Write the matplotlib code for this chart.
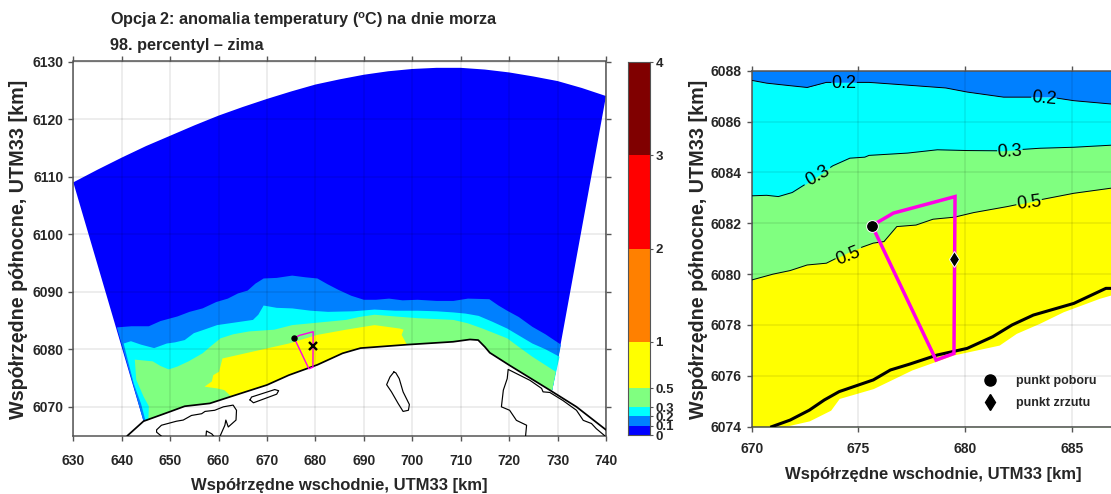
import matplotlib
matplotlib.use("Agg")
import matplotlib.pyplot as plt
from matplotlib.lines import Line2D
from matplotlib.colors import ListedColormap, BoundaryNorm
import numpy as np

plt.rcParams['font.family'] = ['Liberation Sans', 'DejaVu Sans']
plt.rcParams['mathtext.fontset'] = 'custom'
plt.rcParams['mathtext.rm'] = 'Liberation Sans:bold'
plt.rcParams['mathtext.bf'] = 'Liberation Sans:bold'
plt.rcParams['mathtext.default'] = 'bf'

TITLE1 = r"Opcja 2: anomalia temperatury ($^{\mathrm{o}}$C) na dnie morza"
TITLE2 = "98. percentyl – zima"
XLABEL = "Współrzędne wschodnie, UTM33 [km]"
YLABEL = "Współrzędne północne, UTM33 [km]"

levels = [0, 0.1, 0.2, 0.3, 0.5, 1, 2, 3, 4]
colors = ['#0000FF', '#0080FF', '#00FFFF', '#80FF80', '#FFFF00', '#FF8000', '#FF0000', '#800000']

# ---- left map (km)
top_arc = [(630, 6109), (635, 6111.2), (640, 6113.3), (645, 6115.3), (650, 6117.1), (655, 6118.9),
           (660, 6120.6), (665, 6122.1), (670, 6123.5), (675, 6124.8), (680, 6126), (685, 6126.9),
           (690, 6127.7), (695, 6128.3), (700, 6128.7), (705, 6128.9), (710, 6128.9), (715, 6128.6),
           (720, 6128.1), (725, 6127.4), (730, 6126.6), (735, 6125.4), (740, 6124)]
iso01 = [(639.0, 6083.8), (642.0, 6084.0), (645.6, 6084.0), (648.0, 6084.9), (651.5, 6085.7),
         (654.0, 6086.5), (656.7, 6087.1), (659.5, 6088.2), (661.9, 6088.8), (664.0, 6089.7),
         (666.0, 6090.2), (667.6, 6091.4), (669.3, 6092.3), (672.0, 6092.4), (675.2, 6092.8),
         (678.0, 6092.5), (680.4, 6092.3), (682.5, 6091.3), (684.8, 6090.3), (687.4, 6089.3),
         (690.0, 6088.6), (692.5, 6088.6), (695.2, 6088.8), (698.0, 6088.5), (701.1, 6088.6),
         (705.0, 6088.4), (708.5, 6088.4), (711.5, 6088.8), (715.9, 6088.7), (717.8, 6087.6),
         (719.6, 6086.7), (722.0, 6085.6), (724.8, 6083.9), (727.5, 6082.6), (730.7, 6080.8)]
iso02 = [(644.9, 6067.6), (644.0, 6070.5), (642.5, 6074.0), (640.4, 6081.0), (641.9, 6081.4),
         (644.0, 6080.8), (646.7, 6080.2), (649.3, 6081.0), (651.0, 6081.2), (653.0, 6081.6),
         (654.9, 6082.8), (657.0, 6083.4), (659.7, 6084.2), (663.0, 6084.6), (667.1, 6085.1),
         (668.2, 6086.0), (669.3, 6087.6), (672.0, 6087.2), (675.2, 6087.1), (679.0, 6086.7),
         (682.6, 6086.5), (687.8, 6086.6), (692.2, 6086.9), (696.5, 6086.7), (701.1, 6086.7),
         (705.0, 6086.6), (708.5, 6086.4), (711.0, 6086.2), (713.7, 6085.8), (716.5, 6084.8),
         (719.6, 6083.6), (722.0, 6082.4), (724.8, 6081.0), (727.5, 6080.0), (730.4, 6078.7)]
iso03 = [(645.5, 6067.7), (645.6, 6070.1), (644.5, 6071.8), (643.0, 6074.7), (642.7, 6078.2),
         (646.4, 6077.9), (648.0, 6077.1), (649.7, 6076.5), (651.5, 6077.0), (653.8, 6077.9),
         (656.7, 6079.3), (658.5, 6080.6), (660.4, 6081.9), (663.0, 6082.6), (666.3, 6083.1),
         (671.5, 6083.4), (675.2, 6084.2), (678.9, 6084.5), (686.3, 6085.1), (689.0, 6085.6),
         (692.2, 6086.0), (696.5, 6085.7), (701.1, 6085.4), (708.5, 6085.1), (711.5, 6084.5),
         (714.5, 6083.6), (719.6, 6081.9), (722.0, 6080.4), (724.8, 6078.7), (729.6, 6076.1)]
iso05 = [(657.1, 6073.5), (658.6, 6074.4), (658.9, 6075.5), (660.1, 6076.1), (660.8, 6078.4),
         (667.1, 6079.6), (674.5, 6081.0), (680.4, 6082.5), (686.3, 6083.4), (692.2, 6084.2),
         (697.4, 6083.6), (698.2, 6083.4), (697.8, 6082.5), (698.9, 6080.8), (689.3, 6080.2),
         (685.6, 6079.3), (680.4, 6077.3), (674.5, 6075.5), (670.0, 6073.8), (662.6, 6071.8),
         (661.2, 6072.9), (659.7, 6073.2)]
coast = [(641.2, 6065.0), (644.5, 6067.5), (650.1, 6069.2), (653.0, 6070.1), (658.2, 6070.6),
         (662.6, 6071.8), (670.0, 6073.8), (674.5, 6075.5), (680.4, 6077.3), (685.6, 6079.3),
         (689.3, 6080.2), (698.9, 6080.8), (708.4, 6081.3), (711.9, 6081.7), (713.6, 6081.6),
         (715.0, 6080.4), (716.0, 6079.4), (720.1, 6077.2), (728.4, 6072.9), (733.9, 6070.0),
         (740.0, 6066.0)]
lagoon_w = [(648.2, 6064.9), (647.2, 6065.6), (647.2, 6066.0), (648.2, 6066.8), (651.3, 6067.5),
            (652.7, 6067.7), (654.4, 6068.5), (656.5, 6068.8), (657.2, 6069.2), (659.2, 6069.4),
            (661.0, 6070.0), (663.0, 6070.3), (663.7, 6069.4), (663.6, 6067.7), (662.0, 6066.5),
            (661.5, 6067.7), (661.3, 6066.8), (660.3, 6064.9)]
lagoon_s = [(657.4, 6064.9), (657.5, 6065.8), (658.6, 6065.3), (659.0, 6064.9)]
bar_isl = [(666.5, 6071.2), (667.2, 6070.7), (672.0, 6072.2), (672.4, 6072.8), (671.6, 6073.0),
           (666.8, 6071.7), (666.5, 6071.2)]
isl_e = [(696.2, 6076.05), (695.4, 6075.2), (694.7, 6073.85), (695.7, 6072.6), (697.1, 6070.55),
         (698.1, 6069.2), (699.2, 6069.4), (699.4, 6070.4), (698.1, 6072.6), (697.3, 6074.9),
         (696.6, 6075.9), (696.2, 6076.05)]
lagoon_e = [(723.4, 6065.0), (723.6, 6066.8), (721.5, 6067.65), (720.1, 6069.4), (718.4, 6070.0),
            (718.8, 6072.9), (719.6, 6074.9), (719.8, 6076.5), (724.3, 6074.6), (726.7, 6073.2),
            (727.0, 6072.6), (728.4, 6072.5), (731.1, 6071.1), (733.9, 6069.4), (735.3, 6067.65),
            (737.0, 6067.1), (738.0, 6066.2), (739.7, 6065.0)]

# ---- right map (km)
c02 = [(670, 6087.62), (670.7, 6087.51), (671.8, 6087.41), (672.6, 6087.34), (673.5, 6087.54),
       (675.5, 6087.54), (677.0, 6087.45), (679.1, 6087.32), (680.1, 6087.16), (681.8, 6086.96),
       (684.0, 6086.96), (685.1, 6086.82), (686.84, 6086.69)]
c03 = [(670, 6083.08), (670.7, 6083.10), (671.25, 6083.05), (671.9, 6083.21), (672.6, 6083.58),
       (673.8, 6084.26), (674.6, 6084.56), (675.3, 6084.60), (675.5, 6084.67), (677.3, 6084.76),
       (678.7, 6084.89), (680.1, 6084.86), (681.7, 6084.85), (683.5, 6084.95), (685.1, 6084.99),
       (686.84, 6085.07)]
c05 = [(670, 6079.77), (671.0, 6080.0), (671.8, 6080.14), (672.6, 6080.36), (673.5, 6080.43),
       (674.6, 6080.89), (675.7, 6081.22), (676.2, 6081.28), (676.8, 6081.87), (677.7, 6081.93),
       (678.5, 6082.16), (679.5, 6082.24), (680.4, 6082.42), (682.0, 6082.66), (683.5, 6082.92),
       (685.1, 6083.18), (686.84, 6083.38)]
yellow_edge = [(671.5, 6074), (672.7, 6074.23), (673.7, 6074.65), (674.1, 6075.11), (675.7, 6075.5),
               (677.5, 6076.23), (678.4, 6076.5), (679.45, 6076.82), (681.6, 6077.21), (682.4, 6077.67),
               (683.5, 6078.07), (684.6, 6078.52), (686.3, 6079.05), (686.84, 6079.18)]
coast_r = [(670.94, 6074), (671.8, 6074.26), (672.7, 6074.65), (673.4, 6075.05), (674.1, 6075.38),
           (675.7, 6075.84), (676.5, 6076.23), (677.4, 6076.46), (678.7, 6076.82), (680.1, 6077.08),
           (681.3, 6077.54), (682.2, 6078.0), (683.2, 6078.39), (685.1, 6078.85), (686.6, 6079.44),
           (686.84, 6079.44)]
intake = (675.64, 6081.91)
outfall = (679.47, 6080.59)
pipeline = [intake, (676.64, 6082.40), (679.53, 6083.05), (679.48, 6076.88), (678.64, 6076.62), intake]
clabels = [("0.2", 674.33, 6087.49, 0, c02), ("0.2", 683.7, 6086.9, -5, c02), ("0.3", 673.08, 6083.87, 30, c03),
           ("0.3", 682.1, 6084.82, 3, c03), ("0.5", 674.53, 6080.69, 22, c05), ("0.5", 683.0, 6082.79, 7, c05)]
cb_ticks = [0, 0.1, 0.2, 0.3, 0.5, 1, 2, 3, 4]
cb_ticklabels = ['0', '0.1', '0.2', '0.3', '0.5', '1', '2', '3', '4']
LEG1, LEG2 = "punkt poboru", "punkt zrzutu"

W, H = 1111, 494
fig = plt.figure(figsize=(W / 100, H / 100), dpi=100)


def axpx(x0, x1, ytop, ybot):
    return fig.add_axes([x0 / W, 1 - ybot / H, (x1 - x0) / W, (ybot - ytop) / H])


def xy(p):
    a = np.array(p, float)
    return a[:, 0], a[:, 1]


FRAME = '#555555'
TXT = '#262626'


def style(ax, fs=10, pad=3):
    ax.grid(True, color='black', alpha=0.09, lw=1.1, zorder=5)
    ax.set_axisbelow(False)
    ax.tick_params(direction='out', length=3.6, width=1, color=FRAME, labelcolor=TXT, labelsize=fs)
    ax.tick_params(axis='y', pad=3.5)
    ax.tick_params(axis='x', pad=pad)
    for lab in ax.get_xticklabels() + ax.get_yticklabels():
        lab.set_fontweight('bold')
    for s in ax.spines.values():
        s.set_color(FRAME)
        s.set_linewidth(1.1)


# ---------- left
ax = axpx(73.3, 606, 61.5, 435.6)
ax.set_xlim(630, 740)
ax.set_ylim(6065, 6130)
ax.set_xticks(np.arange(630, 741, 10))
ax.set_yticks(np.arange(6070, 6131, 10))
sw = (728.9, 6072.9)
inner = coast[1:-2]
c_rev = [p for p in inner if p[0] <= sw[0]][::-1]
ax.fill(*xy(top_arc + [sw] + c_rev), color=colors[0], lw=0, zorder=1)
ax.fill(*xy(iso01 + [sw] + c_rev), color=colors[1], lw=0, zorder=1.1)
ax.fill(*xy(iso02 + [sw] + c_rev), color=colors[2], lw=0, zorder=1.2)
ax.fill(*xy(iso03 + [sw] + c_rev), color=colors[3], lw=0, zorder=1.3)
ax.fill(*xy(iso05), color=colors[4], lw=0, zorder=1.4)
ax.plot(*xy(coast), color='k', lw=1.25, zorder=6)
for part in (lagoon_w, lagoon_s, bar_isl, isl_e, lagoon_e):
    ax.plot(*xy(part), color='k', lw=0.85, zorder=6)
ax.plot(*xy(pipeline), color='#FF00E6', lw=1.0, zorder=7)
ax.plot(*intake, 'o', color='k', ms=3.6, zorder=8)
ax.plot(*outfall, 'x', color='k', ms=5.5, mew=1.7, zorder=8)
ax.tick_params(top=True, right=True)
style(ax, pad=9.5)

# ---------- colorbar
cax = axpx(628, 650, 62, 435)
cmap = ListedColormap(colors)
norm = BoundaryNorm(levels, cmap.N)
cax.pcolormesh([0, 1], levels, np.array(levels[:-1])[:, None] + 1e-6, cmap=cmap, norm=norm)
cax.set_xticks([])
cax.yaxis.tick_right()
cax.set_yticks(cb_ticks)
cax.set_yticklabels(cb_ticklabels, fontweight='bold', fontsize=9.5, color=TXT)
cax.tick_params(axis='y', length=2, width=0.8, color=FRAME, pad=2, labelcolor=TXT)
cax.set_ylim(0, 4)
for s in cax.spines.values():
    s.set_color(FRAME)
    s.set_linewidth(0.8)

# ---------- right
bx = axpx(751.7, 1111, 70.7, 426.7)
bx.set_xlim(670, 686.84)
bx.set_ylim(6074, 6088)
bx.set_xticks(np.arange(670, 686, 5))
bx.set_yticks(np.arange(6074, 6089, 2))
x, y = xy(c02)
bx.fill_between(x, y, 6088, color=colors[1], lw=0, zorder=1)
bx.fill_between(x, 6074, y, color=colors[2], lw=0, zorder=1.1)
x, y = xy(c03)
bx.fill_between(x, 6074, y, color=colors[3], lw=0, zorder=1.2)
x, y = xy(c05)
bx.fill_between(x, 6074, y, color=colors[4], lw=0, zorder=1.3)
x, y = xy(yellow_edge)
bx.fill_between(x, 6074, y, color='white', lw=0, zorder=1.4)
GAP = 0.62
for c in (c02, c03, c05):
    cx, cy = xy(c)
    gaps = sorted((lab[1] - GAP, lab[1] + GAP) for lab in clabels if lab[4] is c)
    x0 = cx[0]
    for g0, g1 in gaps + [(None, None)]:
        x1 = g0 if g0 is not None else cx[-1]
        m = (cx > x0) & (cx < x1)
        sx = np.r_[x0, cx[m], x1]
        sy = np.r_[np.interp(x0, cx, cy), cy[m], np.interp(x1, cx, cy)]
        bx.plot(sx, sy, color='k', lw=0.7, zorder=6)
        x0 = g1
bx.plot(*xy(coast_r), color='k', lw=2.2, zorder=6)
bx.plot(*xy(pipeline), color='#FF00E6', lw=2.5, zorder=7, solid_joinstyle='miter')
bx.plot(*intake, 'o', color='k', ms=8.5, mec='white', mew=0.7, zorder=8)
bx.plot(*outfall, 'd', color='k', ms=8.5, mec='white', mew=0.7, zorder=8)
for t, tx, ty, rot, _ in clabels:
    bx.text(tx, ty, t, fontsize=13, color='k', rotation=rot, ha='center', va='center', zorder=9)
bx.tick_params(top=True)
style(bx, pad=7.5)
bx.spines['right'].set_visible(False)
bx.legend(handles=[Line2D([], [], ls='', marker='o', color='k', ms=8),
                   Line2D([], [], ls='', marker='d', color='k', ms=8)],
          labels=[LEG1, LEG2], frameon=False, loc='lower right',
          bbox_to_anchor=(1.0095, 0.0), prop={'weight': 'bold', 'size': 9},
          labelcolor=TXT, labelspacing=0.81, handletextpad=1.1, borderaxespad=1.0)

# ---------- text
fig.text(110 / W, 1 - 25.5 / H, TITLE1, fontsize=11.7, fontweight='bold', color=TXT, va='baseline')
fig.text(110 / W, 1 - 50 / H, TITLE2, fontsize=11.7, fontweight='bold', color=TXT, va='baseline')
fig.text(339 / W, 1 - 485 / H, XLABEL, fontsize=12, fontweight='bold', color=TXT, ha='center', va='center')
fig.text(933 / W, 1 - 474 / H, XLABEL, fontsize=12, fontweight='bold', color=TXT, ha='center', va='center')
fig.text(19 / W, 1 - 249 / H, YLABEL, fontsize=14.2, fontweight='bold', color=TXT, rotation=90, ha='center', va='center')
fig.text(698 / W, 1 - 249 / H, YLABEL, fontsize=14.2, fontweight='bold', color=TXT, rotation=90, ha='center', va='center')

fig.savefig('out.png', dpi=100)
